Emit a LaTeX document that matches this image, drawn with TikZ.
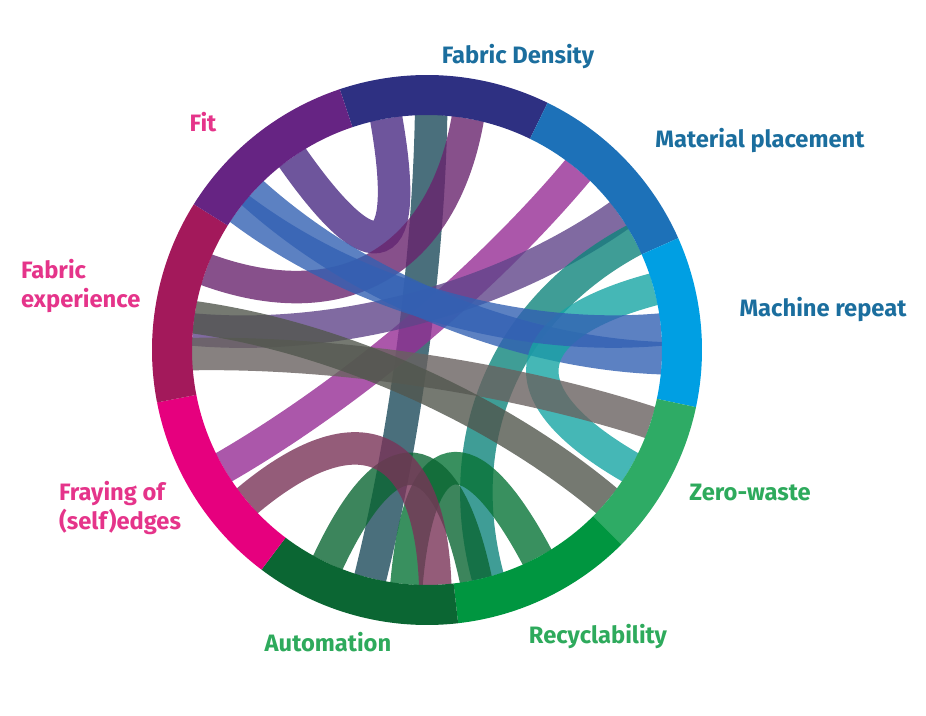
\documentclass[tikz,border=0pt]{standalone}
\usepackage{fontspec}
\setsansfont{Fira Sans}
\usetikzlibrary{positioning}
\definecolor{cDensity}{HTML}{2E3082}
\definecolor{cPlace}{HTML}{1D71B8}
\definecolor{cRepeat}{HTML}{009FE3}
\definecolor{cZero}{HTML}{2EAB65}
\definecolor{cRecyc}{HTML}{009640}
\definecolor{cAuto}{HTML}{0B6633}
\definecolor{cFray}{HTML}{E6007E}
\definecolor{cExp}{HTML}{A3195B}
\definecolor{cFit}{HTML}{662483}
\definecolor{tBlue}{HTML}{1B6E9E}
\definecolor{tPink}{HTML}{E5348A}
\definecolor{tGreen}{HTML}{2EAA5C}
\tikzset{
  lbl/.style = {font = \sffamily\bfseries\fontsize{13.5}{16}\selectfont, align = left},
  chord/.style = {line width = 0.65cm, opacity = 0.8}
}
\newcommand{\segment}[3]{%
  \fill[#3] (#1:275) arc[start angle=#1, end angle=#2, radius=275]
    -- (#2:235) arc[start angle=#2, end angle=#1, radius=235] -- cycle;}
\begin{document}
\begin{tikzpicture}[x=0.02cm, y=0.02cm]
\useasboundingbox (-427,350) rectangle (499,-366);
% chords
\foreach \a/\b/\c in {125/100/cFit!50!cDensity, 89/-104/cDensity!50!cAuto,
  80/160/cDensity!50!cExp, 50/-150/cPlace!40!cFray, 35/175/cPlace!50!cExp,
  28/-75/cPlace!50!cRecyc, -2/138/cRepeat!50!cFit, 15/-30/cRepeat!50!cZero,
  -18/-179/cZero!50!cExp, -40/172/cRecyc!50!cExp, -95/-62/cAuto!70!cRecyc,
  -115/-78/cAuto, -140/-88/cFray!50!cAuto, 143/5/cFit!50!cRepeat}
  \draw[chord, \c] (\a:235) .. controls (\a:90) and (\b:90) .. (\b:235);
% ring
\segment{108.5}{64}{cDensity}
\segment{64}{24}{cPlace}
\segment{24}{-12}{cRepeat}
\segment{-12}{-45}{cZero}
\segment{-45}{-83.5}{cRecyc}
\segment{-83.5}{-127}{cAuto}
\segment{-127}{-169}{cFray}
\segment{191}{148}{cExp}
\segment{148}{108.5}{cFit}
% labels
\node[lbl, tBlue] (density) at (91,293) {Fabric Density};
\node[lbl, tBlue] (place) at (333,209) {Material placement};
\node[lbl, tBlue] (repeat) at (396,40) {Machine repeat};
\node[lbl, tPink] (fit) at (-224,228) {Fit};
\node[lbl, tPink, anchor=west] (exp) at (-412,64) {Fabric\\experience};
\node[lbl, tPink, anchor=west] (fray) at (-374,-158) {Fraying of\\(self)edges};
\node[lbl, tGreen] (zero) at (323,-142) {Zero-waste};
\node[lbl, tGreen] (recyc) at (171,-287) {Recyclability};
\node[lbl, tGreen] (auto) at (-99,-292) {Automation};
\end{tikzpicture}
\end{document}
